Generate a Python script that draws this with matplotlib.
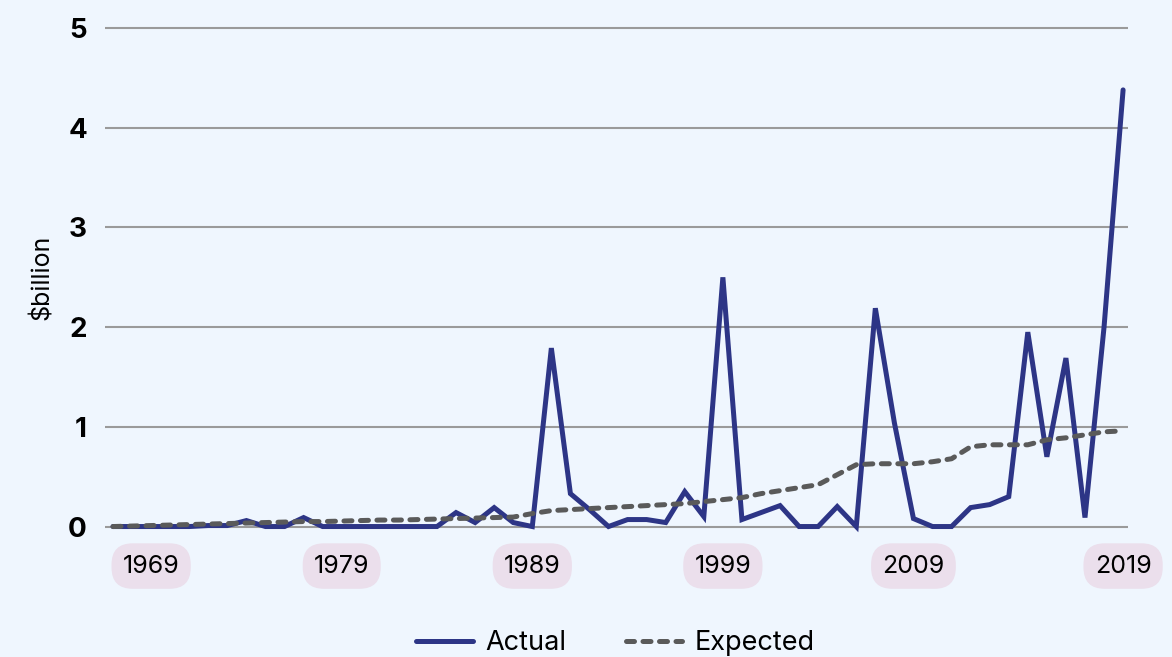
import numpy as np
import matplotlib
matplotlib.use("Agg")
import matplotlib.pyplot as plt

# yearly series ($billion)
years = np.arange(1967, 2021)
actual = [
    0.0, 0.0, 0.0, 0.0, 0.0, 0.01, 0.01, 0.06, 0.0, 0.0,
    0.09, 0.0, 0.0, 0.0, 0.0, 0.0, 0.0, 0.0, 0.14, 0.04,
    0.19, 0.04, 0.0, 1.79, 0.33, 0.17, 0.0, 0.07, 0.07, 0.04,
    0.35, 0.10, 2.50, 0.07, 0.14, 0.21, 0.0, 0.0, 0.20, 0.0,
    2.19, 1.04, 0.08, 0.0, 0.0, 0.19, 0.22, 0.30, 1.95, 0.70,
    1.69, 0.09, 2.00, 4.38,
]
expected = [
    0.0, 0.005, 0.01, 0.015, 0.02, 0.025, 0.03, 0.035, 0.04, 0.045,
    0.05, 0.05, 0.055, 0.06, 0.065, 0.065, 0.07, 0.075, 0.08, 0.085,
    0.09, 0.095, 0.13, 0.16, 0.17, 0.18, 0.19, 0.20, 0.21, 0.22,
    0.23, 0.25, 0.27, 0.29, 0.33, 0.36, 0.39, 0.42, 0.52, 0.62,
    0.63, 0.63, 0.63, 0.65, 0.68, 0.80, 0.82, 0.82, 0.82, 0.87,
    0.89, 0.92, 0.95, 0.96,
]
tick_years = [1969, 1979, 1989, 1999, 2009, 2020]
tick_labels = ["1969", "1979", "1989", "1999", "2009", "2019"]

BG = "#EFF6FE"
NAVY = "#2D3586"
GREY = "#5A5A5A"

plt.rcParams["font.family"] = ["Inter", "DejaVu Sans"]

fig = plt.figure(figsize=(11.72, 6.57), dpi=100, facecolor=BG)
ax = fig.add_axes([0.0896, 0.1834, 0.8729, 0.789], facecolor=BG)

ax.plot(years, actual, color=NAVY, lw=3.6, solid_joinstyle="miter",
        solid_capstyle="round", label="Actual", zorder=3)
ax.plot(years, expected, color=GREY, lw=3.6, dashes=(1.6, 1.7),
        dash_capstyle="round", label="Expected", zorder=4)

ax.set_xlim(1966.58, 2020.26)
ax.set_ylim(-0.1, 5.1)
ax.set_yticks(range(0, 6))
ax.grid(axis="y", color="#9A9A9A", lw=1.5)
ax.set_axisbelow(True)
for s in ax.spines.values():
    s.set_visible(False)

ax.tick_params(axis="y", length=0, pad=13, labelsize=20)
for lbl in ax.get_yticklabels():
    lbl.set_fontweight("bold")

ax.set_xticks(tick_years, tick_labels)
ax.tick_params(axis="x", length=0, pad=13, labelsize=18)
for lbl in ax.get_xticklabels():
    lbl.set_bbox(dict(boxstyle="round,pad=0.45,rounding_size=0.85",
                      fc="#EBDFEC", ec="none"))

ax.set_ylabel("$billion", fontsize=18, labelpad=10)

fig.legend(loc="lower center", bbox_to_anchor=(0.525, -0.036), ncol=2,
           frameon=False, fontsize=19.5, handlelength=2.1, columnspacing=2.2,
           handletextpad=0.45)

fig.savefig("out.png", dpi=100, facecolor=BG)
